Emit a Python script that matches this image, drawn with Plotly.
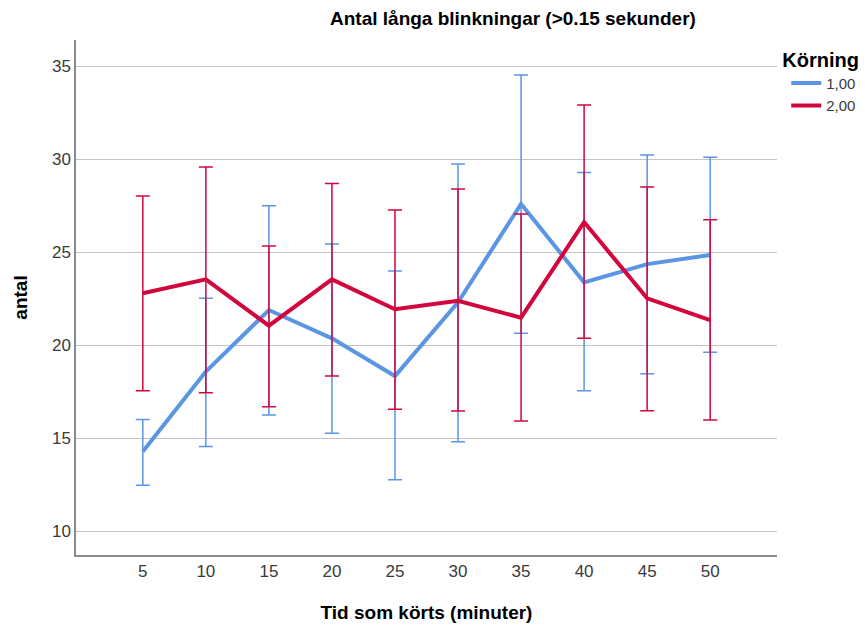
import plotly.graph_objects as go

# Minutes driven (x categories)
minutes = ["5", "10", "15", "20", "25", "30", "35", "40", "45", "50"]

# Körning 1,00: mean and 95% CI bounds
mean_1 = [14.27, 18.57, 21.88, 20.36, 18.33, 22.30, 27.58, 23.37, 24.35, 24.84]
upper_1 = [16.00, 22.51, 27.49, 25.43, 23.98, 29.73, 34.52, 29.27, 30.22, 30.09]
lower_1 = [12.46, 14.55, 16.24, 15.25, 12.76, 14.80, 20.63, 17.54, 18.46, 19.61]

# Körning 2,00: mean and 95% CI bounds
mean_2 = [22.78, 23.53, 21.04, 23.53, 21.92, 22.38, 21.47, 26.61, 22.51, 21.34]
upper_2 = [28.01, 29.57, 25.32, 28.69, 27.26, 28.39, 27.04, 32.90, 28.49, 26.74]
lower_2 = [17.54, 17.44, 16.68, 18.33, 16.54, 16.45, 15.91, 20.36, 16.47, 15.97]

y_ticks = [10, 15, 20, 25, 30, 35]

BLUE = "#5A96E3"
RED = "#D2063C"
FONT = "Liberation Sans"
TICK_COLOR = "#3a3a3a"


def trace(name, mean, upper, lower, color):
    return go.Scatter(
        x=minutes,
        y=mean,
        name=name,
        mode="lines",
        line=dict(color=color, width=4),
        error_y=dict(
            type="data",
            symmetric=False,
            array=[u - m for u, m in zip(upper, mean)],
            arrayminus=[m - l for m, l in zip(mean, lower)],
            color=color,
            thickness=1.5,
            width=7,
        ),
    )


fig = go.Figure()
fig.add_trace(trace("1,00", mean_1, upper_1, lower_1, BLUE))
fig.add_trace(trace("2,00", mean_2, upper_2, lower_2, RED))

fig.update_layout(
    width=865,
    height=628,
    margin=dict(l=76, r=88, t=40, b=73, autoexpand=False),
    paper_bgcolor="white",
    plot_bgcolor="white",
    font=dict(family=FONT, size=17, color=TICK_COLOR),
    title=dict(
        text="Antal långa blinkningar (>0.15 sekunder)",
        x=0.593,
        xanchor="center",
        y=0.971,
        yanchor="middle",
        font=dict(family=FONT, size=19, color="#000000", weight="bold"),
    ),
    showlegend=True,
    legend=dict(
        title=dict(text="Körning", font=dict(family=FONT, size=20, color="#000000", weight="bold")),
        xref="container",
        yref="container",
        x=0.902,
        xanchor="left",
        y=0.935,
        yanchor="top",
        font=dict(family=FONT, size=15, color=TICK_COLOR),
        itemwidth=30,
        indentation=6,
        tracegroupgap=0,
        bgcolor="rgba(0,0,0,0)",
    ),
)

fig.update_xaxes(
    type="category",
    range=[-1.06, 10.06],
    automargin=False,
    showgrid=False,
    showline=True,
    linecolor="#8c8c8c",
    linewidth=1.5,
    ticks="",
    tickfont=dict(family=FONT, size=17, color=TICK_COLOR),
    title=dict(
        text="Tid som körts (minuter)",
        font=dict(family=FONT, size=19, color="#000000", weight="bold"),
        standoff=26,
    ),
    zeroline=False,
)

fig.update_yaxes(
    range=[8.71, 36.4],
    tickvals=y_ticks,
    automargin=False,
    showgrid=True,
    gridcolor="#c4c4c4",
    gridwidth=1,
    showline=True,
    linecolor="#8c8c8c",
    linewidth=1.5,
    ticks="",
    tickfont=dict(family=FONT, size=17, color=TICK_COLOR),
    title=dict(
        text="antal",
        font=dict(family=FONT, size=19, color="#000000", weight="bold"),
        standoff=19,
    ),
    zeroline=False,
)

fig.write_html("out.html")
